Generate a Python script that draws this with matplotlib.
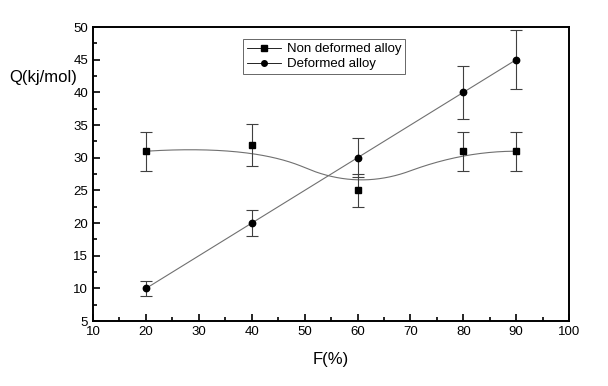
import matplotlib
matplotlib.use('Agg')
import matplotlib.pyplot as plt
import numpy as np
from matplotlib.ticker import MultipleLocator

plt.rcParams['font.family'] = ['Liberation Sans', 'DejaVu Sans']

# data
F = [20, 40, 60, 80, 90]
Q_non = [31, 32, 25, 31, 31]
err_non = [3, 3.2, 2.5, 3, 3]
Q_def = [10, 20, 30, 40, 45]
err_def = [1.1, 2, 3, 4, 4.5]


def bspline(px, py, k=2, n=300):
    # clamped B-spline with the data points as control points (Origin "B-spline" connect)
    P = np.column_stack([px, py]).astype(float)
    m = len(P)
    knots = np.concatenate([np.zeros(k), np.linspace(0, 1, m - k + 1), np.ones(k)])
    out = []
    for t in np.linspace(0, 1, n):
        if t >= 1.0:
            out.append(P[-1])
            continue
        s = np.searchsorted(knots, t, side='right') - 1
        d = [P[j + s - k].copy() for j in range(k + 1)]
        for r in range(1, k + 1):
            for j in range(k, r - 1, -1):
                a = (t - knots[j + s - k]) / (knots[j + 1 + s - r] - knots[j + s - k])
                d[j] = (1 - a) * d[j - 1] + a * d[j]
        out.append(d[k])
    out = np.array(out)
    return out[:, 0], out[:, 1]


fig, ax = plt.subplots(figsize=(6.08, 3.86), dpi=100)
fig.subplots_adjust(left=0.153, right=0.936, top=0.930, bottom=0.168)

cx, cy = bspline(F, Q_non)
ax.plot(cx, cy, color='#707070', linewidth=0.8)
ax.plot(F, Q_def, color='#707070', linewidth=0.8)

ax.errorbar(F, Q_non, yerr=err_non, fmt='none', ecolor='#404040', elinewidth=0.8, capsize=4.5, capthick=0.8)
ax.errorbar(F, Q_def, yerr=err_def, fmt='none', ecolor='#404040', elinewidth=0.8, capsize=4.5, capthick=0.8)
ax.plot(F, Q_non, 's', color='black', markersize=4.3)
ax.plot(F, Q_def, 'o', color='black', markersize=4.6)

# legend handles
h1, = ax.plot([], [], 's-', color='black', markersize=4, linewidth=0.6, label='Non deformed alloy')
h2, = ax.plot([], [], 'o-', color='black', markersize=4, linewidth=0.6, label='Deformed alloy')
leg = ax.legend(handles=[h1, h2], loc='upper left', bbox_to_anchor=(0.315, 0.959), borderaxespad=0,
                fontsize=9.5, frameon=True, fancybox=False, edgecolor='#404040',
                handlelength=2.6, handletextpad=0.4, borderpad=0.3, labelspacing=0.2)
leg.get_frame().set_linewidth(0.7)

ax.set_xlim(10, 100)
ax.set_ylim(5, 50)
ax.xaxis.set_major_locator(MultipleLocator(10))
ax.xaxis.set_minor_locator(MultipleLocator(5))
ax.yaxis.set_major_locator(MultipleLocator(5))
ax.yaxis.set_minor_locator(MultipleLocator(2.5))
ax.tick_params(which='both', direction='in', top=False, right=False, labelsize=9.5, width=1.2)
ax.tick_params(which='major', length=5)
ax.tick_params(which='minor', length=3)
for sp in ax.spines.values():
    sp.set_linewidth(1.4)

ax.set_xlabel('F(%)', fontsize=12, labelpad=10)
fig.text(0.016, 0.80, 'Q(kj/mol)', fontsize=12, ha='left', va='center')

plt.savefig('out.png', dpi=100)
